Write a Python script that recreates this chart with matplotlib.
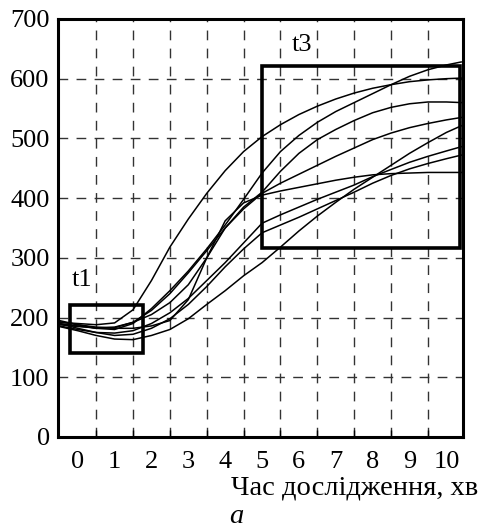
import numpy as np
import matplotlib.pyplot as plt
from matplotlib.patches import Rectangle

plt.rcParams['font.family'] = ['Liberation Serif', 'DejaVu Serif']

# час, хв
t = [-0.5, 0, 0.5, 1, 1.5, 2, 2.5, 3, 3.5, 4, 4.5, 5, 5.5, 6, 6.5, 7, 7.5,
     8, 8.5, 9, 9.5, 10, 10.4]

c1 = [192, 190, 188, 191, 213, 262, 318, 365, 408, 446, 478, 503, 523, 540,
      554, 566, 576, 584, 590, 595, 598, 600, 601]
c2 = [195, 188, 182, 180, 190, 215, 245, 278, 315, 355, 398, 442, 478, 505,
      527, 545, 560, 575, 590, 604, 615, 623, 628]
c3 = [188, 185, 183, 184, 192, 205, 225, 255, 300, 350, 385, 410, 445, 475,
      498, 515, 530, 543, 552, 558, 561, 561, 560]
c4 = [190, 186, 182, 183, 192, 212, 240, 275, 312, 350, 382, 408, 425, 440,
      455, 470, 484, 498, 509, 518, 525, 531, 535]
c5 = [193, 188, 184, 182, 182, 186, 195, 230, 300, 362, 392, 405, 412, 418,
      424, 430, 435, 439, 441, 442, 443, 443, 443]
c6 = [186, 180, 175, 174, 178, 190, 208, 232, 262, 292, 325, 358, 372, 385,
      398, 410, 422, 436, 448, 460, 470, 479, 486]
c7 = [190, 182, 175, 170, 172, 182, 198, 222, 252, 285, 315, 342, 355, 368,
      382, 396, 410, 425, 438, 449, 458, 466, 472]
c8 = [185, 178, 170, 164, 163, 170, 180, 198, 222, 245, 270, 292, 318, 345,
      370, 393, 415, 435, 455, 475, 493, 510, 521]
curves = [c1, c2, c3, c4, c5, c6, c7, c8]

xticks = list(range(11))
yticks = list(range(0, 701, 100))

fs = 19
fs_label = 20.5

fig = plt.figure(figsize=(4.8, 5.3), dpi=100)
ax = fig.add_axes([0.1208, 0.1755, 0.8438, 0.7887])

for c in curves:
    ax.plot(t, c, color='black', lw=1.1)

# виділені ділянки
ax.add_patch(Rectangle((-0.2, 140), 1.98, 81, fill=False, lw=2.6,
                       edgecolor='black', zorder=5))
ax.add_patch(Rectangle((5.0, 316), 5.38, 305, fill=False, lw=2.6,
                       edgecolor='black', zorder=5))
ax.text(0.12, 263, 't1', fontsize=fs, ha='center', va='center')
ax.text(6.09, 657, 't3', fontsize=fs, ha='center', va='center')

ax.set_xlim(-0.535, 10.45)
ax.set_ylim(0, 700)
ax.set_xticks(xticks)
ax.set_xticklabels([str(v) for v in xticks], fontsize=fs)
ax.set_xticks(np.arange(0.5, 10, 1), minor=True)
ax.set_yticks(yticks)
ax.set_yticklabels([str(v) for v in yticks], fontsize=fs)
ax.tick_params(axis='x', which='major', length=0, pad=10)
ax.tick_params(axis='x', which='minor', direction='in', length=5, width=1)
ax.tick_params(axis='y', which='major', length=0, pad=6)

ax.grid(False)
for gx in np.arange(0.5, 10, 1):
    ax.axvline(gx, color='#333333', lw=1.0, ls=(0, (7, 6)), zorder=1)
for gy in range(100, 700, 100):
    ax.axhline(gy, color='#333333', lw=1.0, ls=(0, (7, 6)), zorder=1)

for s in ax.spines.values():
    s.set_linewidth(2.2)

fig.text(0.996, 0.079, 'Час дослідження, хв', fontsize=fs_label,
         ha='right', va='center')
fig.text(0.492, 0.025, 'а', fontsize=fs_label, style='italic',
         ha='center', va='center')

fig.savefig('out.png', dpi=100)
